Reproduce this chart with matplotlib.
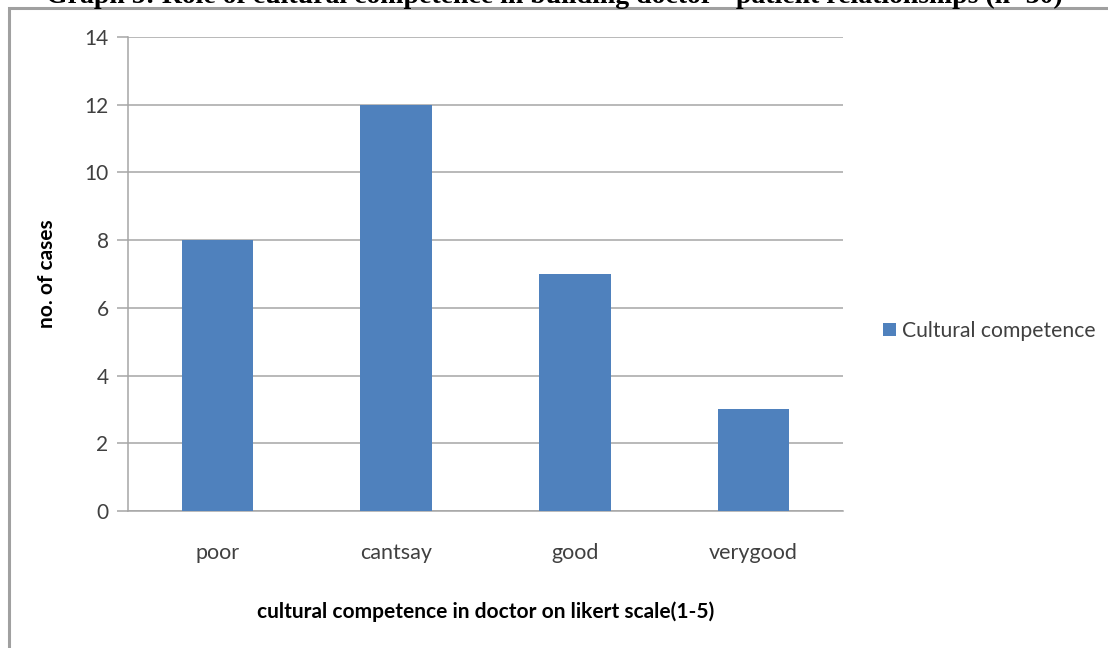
import matplotlib.pyplot as plt
from matplotlib.patches import Rectangle

# survey counts per rating
categories = ["poor", "cantsay", "good", "verygood"]
counts = [8, 12, 7, 3]
series_name = "Cultural competence"
yticks = [0, 2, 4, 6, 8, 10, 12, 14]

title = "Graph 5: Role of cultural competence in building doctor - patient relationships (n=30)"
xlabel = "cultural competence in doctor on likert scale(1-5)"
ylabel = "no. of cases"

plt.rcParams["font.family"] = ["Lato", "DejaVu Sans"]
bar_color = "#4F81BD"
grid_color = "#A6A6A6"
text_color = "#404040"

fig = plt.figure(figsize=(11.08, 6.48), dpi=100)
W, H = 1108, 648

# outer frame of the chart object
fig.patches.append(Rectangle((9 / W, -0.1), 1.2, 1 - 7.5 / H + 0.1, transform=fig.transFigure,
                             fill=False, edgecolor="#A0A0A0", linewidth=2.2))

# caption sits above the frame, only its lower edge shows
fig.text(0.5, 1 - 3 / H, title, ha="center", va="baseline", family="Liberation Serif",
         fontweight="bold", fontsize=20, color="black")

ax = fig.add_axes([128 / W, 1 - 511 / H, (843 - 128) / W, (511 - 37) / H])
x = range(len(categories))
ax.bar(x, counts, width=0.4, color=bar_color, label=series_name, zorder=3)

ax.set_xlim(-0.5, len(categories) - 0.5)
ax.set_ylim(0, 14)
ax.set_yticks(yticks)
ax.set_xticks(list(x))
ax.set_xticklabels(categories)
ax.yaxis.grid(True, color=grid_color, linewidth=1.1, zorder=0)

for side in ["top", "right"]:
    ax.spines[side].set_visible(False)
for side in ["left", "bottom"]:
    ax.spines[side].set_color(grid_color)
    ax.spines[side].set_linewidth(1.1)

ax.tick_params(axis="y", length=8, width=1.1, color=grid_color, labelsize=15,
               labelcolor=text_color, pad=6)
ax.tick_params(axis="x", length=0, labelsize=15.5, labelcolor=text_color, pad=23)

ax.set_xlabel(xlabel, fontsize=15, fontweight="bold", color="black", labelpad=28)
ax.set_ylabel(ylabel, fontsize=15, fontweight="bold", color="black", labelpad=20)

ax.legend(loc="center left", bbox_to_anchor=(1.03, 0.38), frameon=False, fontsize=15.2,
          handlelength=0.6, handleheight=0.6, handletextpad=0.3, labelcolor=text_color)

fig.savefig("out.png", dpi=100)
